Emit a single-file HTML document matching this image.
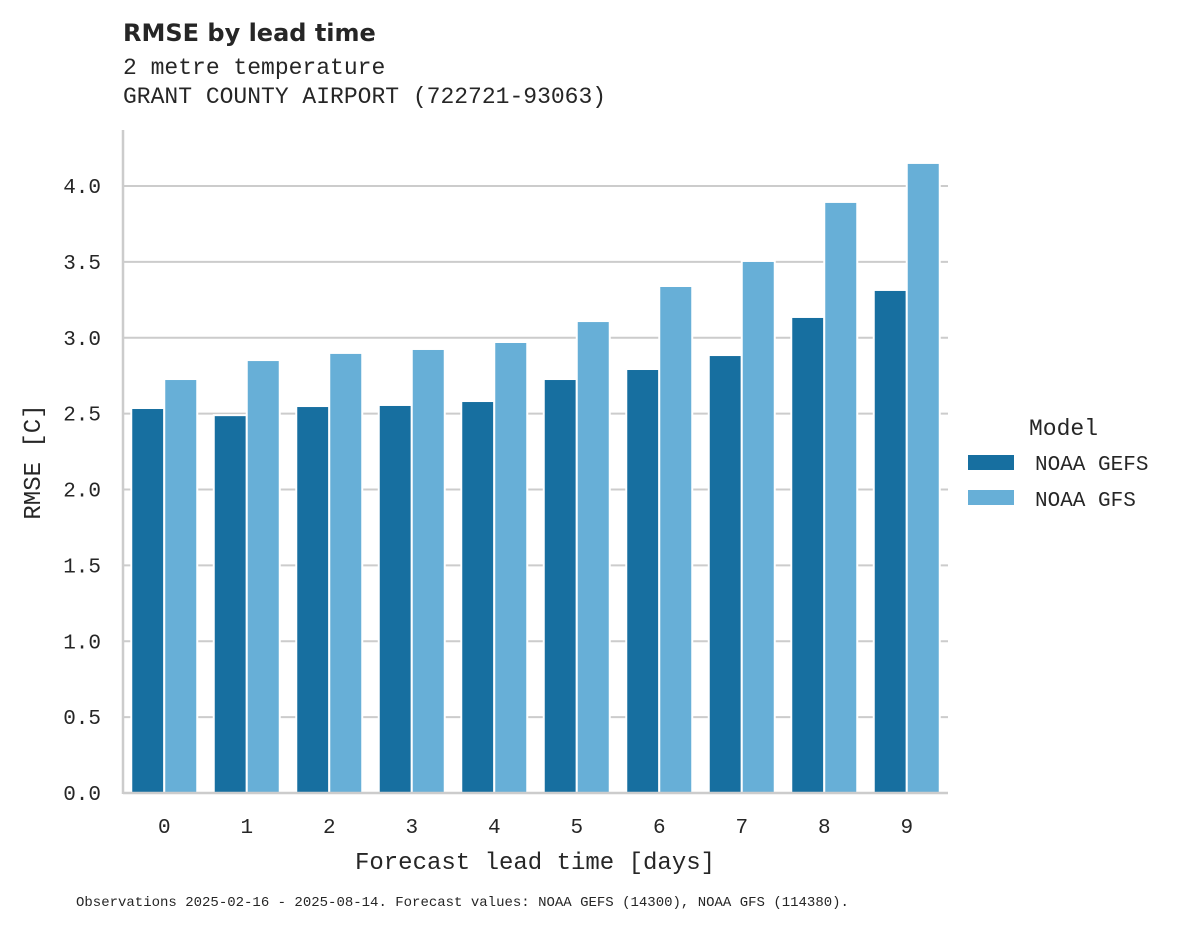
<!DOCTYPE html>
<html><head><meta charset="utf-8"><style>
body{margin:0;background:#fff;}
svg text{font-family:"Liberation Mono","DejaVu Sans Mono",monospace;fill:#262626;}
</style></head><body>
<svg width="1188" height="928" viewBox="0 0 1188 928" xmlns="http://www.w3.org/2000/svg">
<text x="123" y="41" font-size="24" font-weight="bold" font-family="Liberation Sans" style="font-family:'DejaVu Sans',sans-serif">RMSE by lead time</text>
<text x="123" y="74" font-size="23">2 metre temperature</text>
<text x="123" y="103" font-size="23">GRANT COUNTY AIRPORT (722721-93063)</text>
<g id="grid"></g><g id="bars"></g><g id="axes"></g>
<text x="535" y="869" font-size="24" text-anchor="middle">Forecast lead time [days]</text>
<text transform="translate(40,462) rotate(-90)" font-size="24" text-anchor="middle">RMSE [C]</text>
<g>
<text x="1029" y="435" font-size="23">Model</text>
<rect x="968" y="455" width="46" height="15" fill="#176fa0"/>
<text x="1035" y="470" font-size="21">NOAA GEFS</text>
<rect x="968" y="490" width="46" height="15" fill="#67afd7"/>
<text x="1035" y="506" font-size="21">NOAA GFS</text>
</g>
<text x="76" y="906" font-size="14">Observations 2025-02-16 - 2025-08-14. Forecast values: NOAA GEFS (14300), NOAA GFS (114380).</text>
</svg>
<script>
const categories=['0','1','2','3','4','5','6','7','8','9'];
const gefs=[2.537,2.49,2.55,2.557,2.583,2.728,2.794,2.886,3.137,3.315];
const gfs=[2.728,2.853,2.9,2.926,2.972,3.11,3.341,3.506,3.895,4.152];
const yTicks=[0,0.5,1.0,1.5,2.0,2.5,3.0,3.5,4.0];
const tickLabels=['0.0','0.5','1.0','1.5','2.0','2.5','3.0','3.5','4.0'];
const NS='http://www.w3.org/2000/svg';
const X0=123,X1=948,Y0=793,PPU=151.75;
const y=v=>Y0-v*PPU;
const step=(X1-X0)/categories.length;
const xc=i=>X0+step*(i+0.5);
function mk(tag,attrs,parent){const e=document.createElementNS(NS,tag);for(const k in attrs)e.setAttribute(k,attrs[k]);document.getElementById(parent).appendChild(e);return e;}
yTicks.forEach((t,i)=>{
  const l=mk('line',{x1:X0,x2:X1,y1:y(t),y2:y(t),stroke:'#cccccc','stroke-width':2},'grid');
  
  
  const tx=mk('text',{x:X0-22,y:y(t)+7,'font-size':21,'text-anchor':'end'},'axes');
  tx.textContent=tickLabels[i];
  
  
});
const bw=step*0.4;
categories.forEach((c,i)=>{
  const b1=mk('rect',{x:xc(i)-bw,y:y(gefs[i]),width:bw,height:y(0)-y(gefs[i]),fill:'#176fa0',stroke:'#fff','stroke-width':2},'bars');
  
  
  const b2=mk('rect',{x:xc(i),y:y(gfs[i]),width:bw,height:y(0)-y(gfs[i]),fill:'#67afd7',stroke:'#fff','stroke-width':2},'bars');
  
  
  const tx=mk('text',{x:xc(i),y:833,'font-size':21,'text-anchor':'middle'},'axes');
  tx.textContent=c;
  
  
});
const ls=mk('line',{x1:X0,x2:X0,y1:130,y2:Y0+1,stroke:'#cccccc','stroke-width':2.5},'axes');


const bs=mk('line',{x1:X0,x2:X1,y1:Y0,y2:Y0,stroke:'#cccccc','stroke-width':2.5},'axes');


</script>
</body></html>
